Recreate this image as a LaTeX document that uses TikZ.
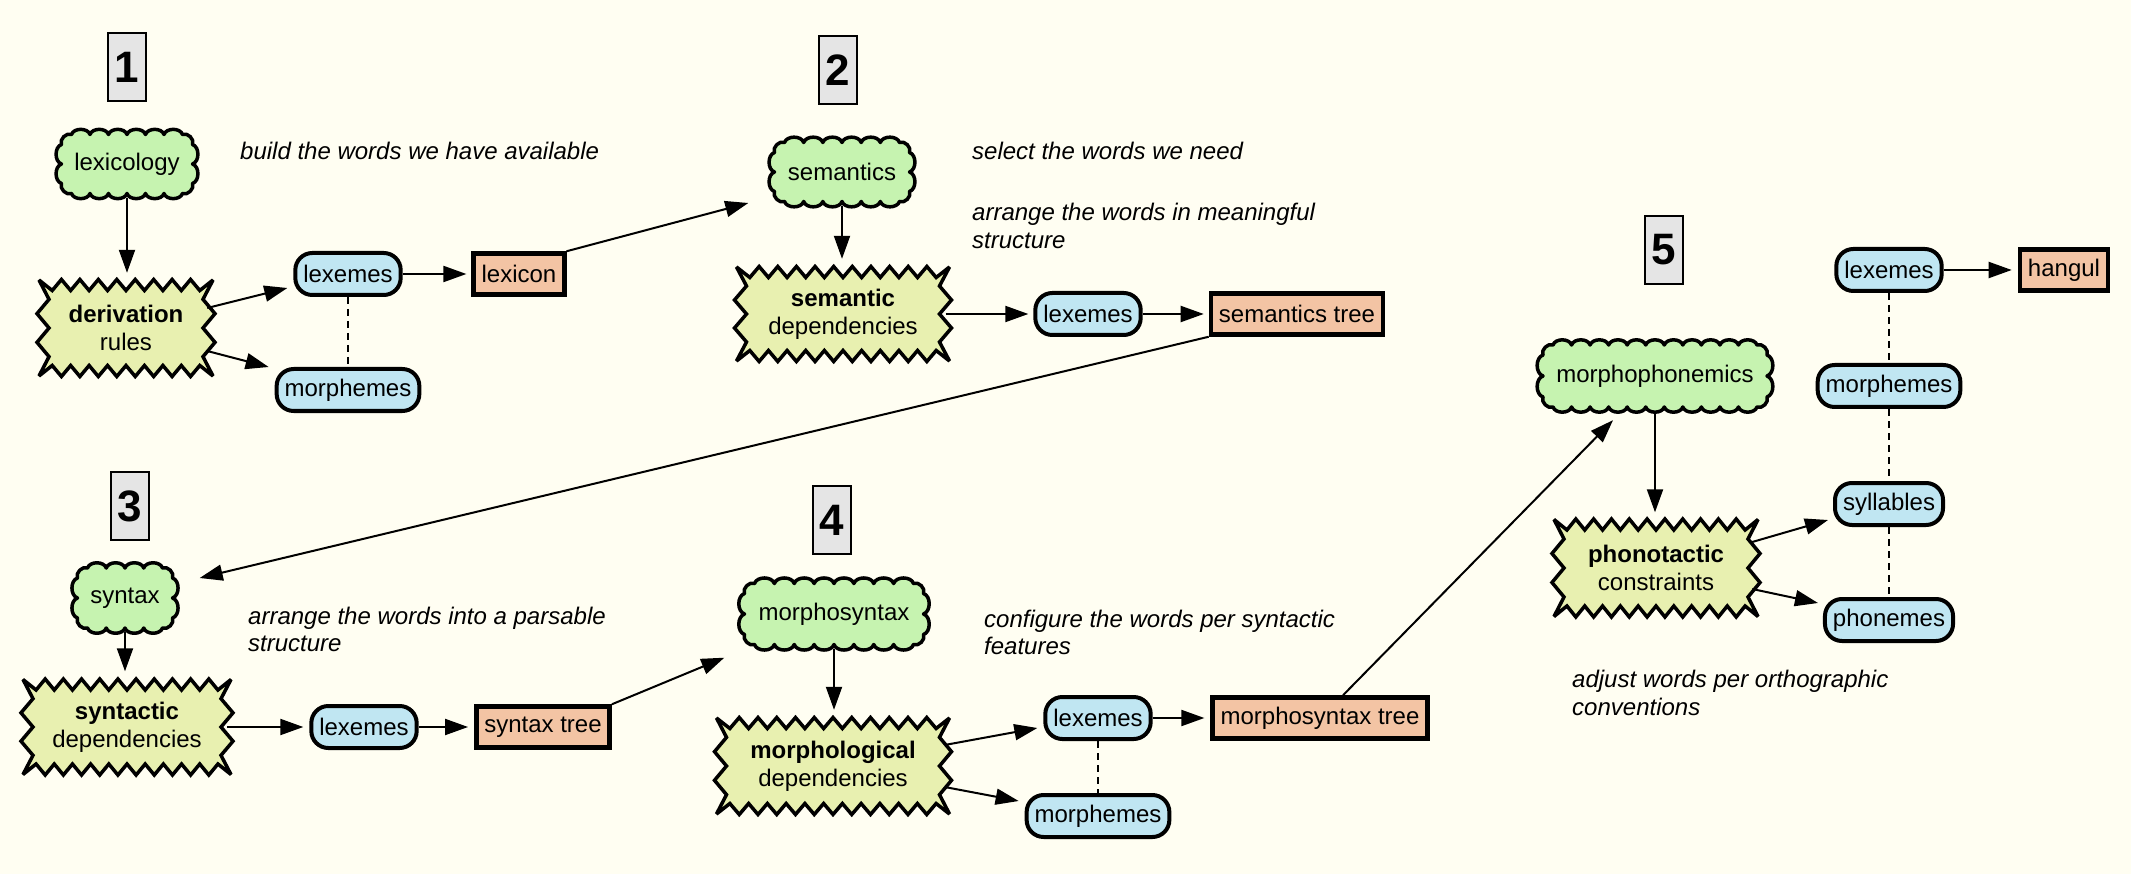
\documentclass[tikz,border=0pt]{standalone}
\usepackage{fontspec}
\setmainfont{Liberation Sans}
\usetikzlibrary{arrows.meta, calc}

\definecolor{bgcol}{RGB}{255,254,242}
\definecolor{cloudfill}{RGB}{198,243,176}
\definecolor{burstfill}{RGB}{232,240,176}
\definecolor{bluefill}{RGB}{192,230,242}
\definecolor{orangefill}{RGB}{243,196,164}
\definecolor{numfill}{RGB}{229,229,229}

% scalloped (cloud) outline: cx, cy, half width, half height, bumps along x, bumps along y
\newcommand{\scallopbox}[6]{%
  \path[cloudline] ({#1-#3+10},{#2-#4})
    \foreach \k in {1,...,#5}{ to[bend left=72] ++({(2*#3-20)/#5},0) }
    to[bend left=72] ++(10,10)
    \foreach \k in {1,...,#6}{ to[bend left=72] ++(0,{(2*#4-20)/#6}) }
    to[bend left=72] ++(-10,10)
    \foreach \k in {1,...,#5}{ to[bend left=72] ++({-(2*#3-20)/#5},0) }
    to[bend left=72] ++(-10,-10)
    \foreach \k in {1,...,#6}{ to[bend left=72] ++(0,{-(2*#4-20)/#6}) }
    to[bend left=72] ++(10,-10) -- cycle;
}

% jagged (starburst) outline: cx, cy, half width, half height, teeth along x, teeth along y
\newcommand{\jaggedbox}[6]{%
  \path[burstline] ({#1-#3-4},{#2-#4-5})
    \foreach \k in {1,...,\numexpr#5-1\relax}{
      -- ({#1-#3+(2*\k-1)*#3/#5},{#2-#4+5.5}) -- ({#1-#3+2*\k*#3/#5},{#2-#4-5.5}) }
    -- ({#1+#3-#3/#5},{#2-#4+5.5}) -- ({#1+#3+4},{#2-#4-5})
    \foreach \k in {1,...,\numexpr#6-1\relax}{
      -- ({#1+#3-6},{#2-#4+(2*\k-1)*#4/#6}) -- ({#1+#3+6},{#2-#4+2*\k*#4/#6}) }
    -- ({#1+#3-6},{#2+#4-#4/#6}) -- ({#1+#3+4},{#2+#4+5})
    \foreach \k in {1,...,\numexpr#5-1\relax}{
      -- ({#1+#3-(2*\k-1)*#3/#5},{#2+#4-5.5}) -- ({#1+#3-2*\k*#3/#5},{#2+#4+5.5}) }
    -- ({#1-#3+#3/#5},{#2+#4-5.5}) -- ({#1-#3-4},{#2+#4+5})
    \foreach \k in {1,...,\numexpr#6-1\relax}{
      -- ({#1-#3+6},{#2+#4-(2*\k-1)*#4/#6}) -- ({#1-#3-6},{#2+#4-2*\k*#4/#6}) }
    -- ({#1-#3+6},{#2-#4+#4/#6}) -- cycle;
}

\begin{document}
\begin{tikzpicture}[x=1pt,y=-1pt,
  every node/.style={font=\fontsize{24}{28}\selectfont},
  cloudline/.style={draw, fill=cloudfill, line width=3.5pt, line join=round},
  burstline/.style={draw, fill=burstfill, line width=3.5pt, line join=miter, miter limit=4},
  plaintext/.style={rectangle, inner sep=0pt, align=center},
  bluebox/.style={rectangle, rounded corners=17pt, draw, line width=4pt, fill=bluefill,
    inner xsep=8pt, inner ysep=0pt, minimum height=42pt},
  orangebox/.style={rectangle, draw, line width=4.5pt, fill=orangefill,
    inner xsep=8pt, inner ysep=0pt, minimum height=41pt},
  numbox/.style={rectangle, draw, line width=2pt, fill=numfill, minimum width=38pt,
    minimum height=68pt, inner sep=0pt, font=\fontsize{44}{48}\selectfont\bfseries},
  note/.style={font=\fontsize{24}{28}\selectfont\itshape, anchor=base west, inner sep=0pt},
  arr/.style={line width=2pt, -{Triangle[length=23pt,width=16pt]}},
  dashline/.style={line width=2pt, dash pattern=on 7pt off 5pt}
]
\fill[bgcol] (0,0) rectangle (2131,874);
\useasboundingbox (0,0) rectangle (2131,874);

% ---------- section 1
\node[numbox] (n1) at (127,67) {1};
\scallopbox{127}{164}{65.5}{29.5}{6}{2}
\node[plaintext, minimum width=131pt, minimum height=59pt] (lexicology) at (127,164) {lexicology};
\jaggedbox{126}{328}{83}{43}{9}{3}
\node[plaintext, minimum width=166pt, minimum height=86pt] (derivation) at (126,328) {\textbf{derivation}\\rules};
\node[bluebox] (lex1) at (348,274) {lexemes};
\node[orangebox] (lexicon) at (519,274) {lexicon};
\node[bluebox] (mor1) at (348,390) {morphemes};
\node[note] (t1) at (240,160) {build the words we have available};

% ---------- section 2
\node[numbox] (n2) at (838,70) {2};
\scallopbox{842}{172}{67.5}{29.5}{6}{2}
\node[plaintext, minimum width=135pt, minimum height=59pt] (semantics) at (842,172) {semantics};
\jaggedbox{843}{314}{102.5}{42}{11}{3}
\node[plaintext, minimum width=205pt, minimum height=84pt] (semdep) at (843,314) {\textbf{semantic}\\dependencies};
\node[bluebox] (lex2) at (1088,314) {lexemes};
\node[orangebox] (semtree) at (1297,314) {semantics tree};
\node[note] (t2a) at (972,160) {select the words we need};
\node[note] (t2b) at (972,221) {arrange the words in meaningful};
\node[note] (t2c) at (972,249) {structure};

% ---------- section 3
\node[numbox] (n3) at (130,506) {3};
\scallopbox{125}{598}{47.5}{30}{4}{2}
\node[plaintext, minimum width=95pt, minimum height=60pt] (syntax) at (125,598) {syntax};
\jaggedbox{127}{727}{100}{42.5}{11}{3}
\node[plaintext, minimum width=200pt, minimum height=85pt] (syndep) at (127,727) {\textbf{syntactic}\\dependencies};
\node[bluebox] (lex3) at (364,727) {lexemes};
\node[orangebox] (syntree) at (543,727) {syntax tree};
\node[note] (t3a) at (248,624) {arrange the words into a parsable};
\node[note] (t3b) at (248,651) {structure};

% ---------- section 4
\node[numbox] (n4) at (832,520) {4};
\scallopbox{834}{614}{89.5}{30.5}{8}{2}
\node[plaintext, minimum width=179pt, minimum height=61pt] (morphosyntax) at (834,614) {morphosyntax};
\jaggedbox{833}{766}{112.5}{43}{12}{3}
\node[plaintext, minimum width=225pt, minimum height=86pt] (morphdep) at (833,766) {\textbf{morphological}\\dependencies};
\node[bluebox] (lex4) at (1098,718) {lexemes};
\node[orangebox] (morphtree) at (1320,718) {morphosyntax tree};
\node[bluebox] (mor4) at (1098,816) {morphemes};
\node[note] (t4a) at (984,627) {configure the words per syntactic};
\node[note] (t4b) at (984,654) {features};

% ---------- section 5
\node[numbox] (n5) at (1664,250) {5};
\scallopbox{1655}{376}{112}{31}{11}{2}
\node[plaintext, minimum width=224pt, minimum height=62pt] (morphophon) at (1655,376) {morphophonemics};
\jaggedbox{1656}{568}{98}{43.5}{11}{3}
\node[plaintext, minimum width=196pt, minimum height=87pt] (phono) at (1656,568) {\textbf{phonotactic}\\constraints};
\node[bluebox] (lex5) at (1889,270) {lexemes};
\node[orangebox] (hangul) at (2064,270) {hangul};
\node[bluebox] (mor5) at (1889,386) {morphemes};
\node[bluebox] (syl) at (1889,504) {syllables};
\node[bluebox] (phon) at (1889,620) {phonemes};
\node[note] (t5a) at (1572,687) {adjust words per orthographic};
\node[note] (t5b) at (1572,715) {conventions};

% ---------- connectors
\draw[arr, shorten <=4pt, shorten >=12pt] (lexicology.south) -- (lexicology.south |- derivation.north);
\draw[arr] ($(derivation.east)+(-2,-20)$) -- ($(lex1.west)+(-6,14)$);
\draw[arr] ($(derivation.east)+(-2,23)$) -- ($(mor1.west)+(-6,-23)$);
\draw[arr, shorten >=5pt] (lex1.east) -- (lexicon.west);
\draw[dashline] (lex1.south) -- (mor1.north);
\draw[arr] (lexicon.north east) -- ($(semantics.west)+(-26,31)$);

\draw[arr, shorten <=4pt, shorten >=13pt] (semantics.south) -- (semantics.south |- semdep.north);
\draw[arr, shorten >=5pt] (semdep.east) -- (lex2.west);
\draw[arr, shorten >=5pt] (lex2.east) -- (semtree.west);
\draw[arr] (semtree.south west) -- ($(syntax.east)+(27,-20)$);

\draw[arr, shorten <=4pt, shorten >=13pt] (syntax.south) -- (syntax.south |- syndep.north);
\draw[arr, shorten >=6pt] (syndep.east) -- (lex3.west);
\draw[arr, shorten >=6pt] (lex3.east) -- (syntree.west);
\draw[arr] (syntree.north east) -- ($(morphosyntax.south west)+(-20,13)$);

\draw[arr, shorten <=4pt, shorten >=13pt] (morphosyntax.south) -- (morphosyntax.south |- morphdep.north);
\draw[arr] ($(morphdep.east)+(-1,-21)$) -- ($(lex4.west)+(-6,10)$);
\draw[arr] ($(morphdep.east)+(-1,21)$) -- ($(mor4.west)+(-6,-15)$);
\draw[arr, shorten >=6pt] (lex4.east) -- (morphtree.west);
\draw[dashline] (lex4.south) -- (mor4.north);
\draw[arr] ($(morphtree.north)+(23,0)$) -- ($(morphophon.south)+(-42,13)$);

\draw[arr, shorten <=4pt, shorten >=12pt] (morphophon.south) -- (morphophon.south |- phono.north);
\draw[arr] ($(phono.east)+(-2,-26)$) -- ($(syl.west)+(-5,16)$);
\draw[arr] ($(phono.east)+(-2,21)$) -- ($(phon.west)+(-5,-17)$);
\draw[arr, shorten >=6pt] (lex5.east) -- (hangul.west);
\draw[dashline] (lex5.south) -- (mor5.north);
\draw[dashline] (mor5.south) -- (syl.north);
\draw[dashline] (syl.south) -- (phon.north);
\end{tikzpicture}
\end{document}
